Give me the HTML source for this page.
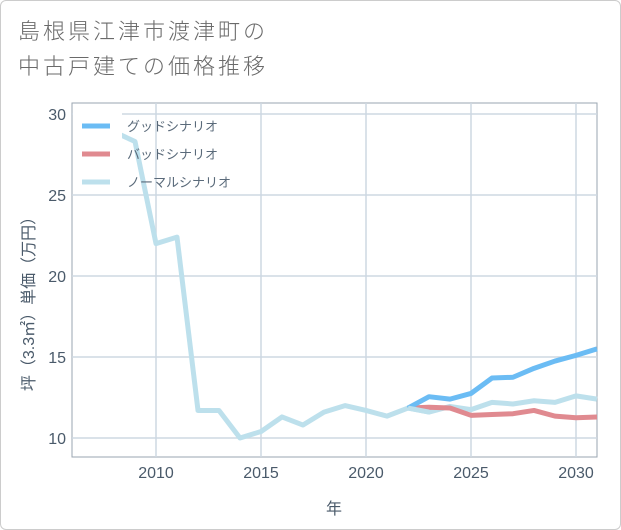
<!DOCTYPE html>
<html><head><meta charset="utf-8"><style>
body{margin:0;background:#fff;}
#wrap{position:relative;width:619px;height:528px;border:1px solid #ccc;border-radius:6px;background:#fff;overflow:hidden;font-family:"Liberation Sans","Noto Sans CJK JP",sans-serif;}
.title{position:absolute;left:17px;top:13px;font-size:22px;line-height:35px;color:#6a6a6a;letter-spacing:3px;font-weight:300;}
svg text{font-family:"Liberation Sans","Noto Sans CJK JP",sans-serif;}
</style></head><body>
<div id="wrap">
<div class="title">島根県江津市渡津町の<br>中古戸建ての価格推移</div>
<svg id="chart" width="621" height="530" style="position:absolute;left:-1px;top:-1px"></svg>
</div>
<script>
const years=[2008,2009,2010,2011,2012,2013,2014,2015,2016,2017,2018,2019,2020,2021,2022,2023,2024,2025,2026,2027,2028,2029,2030,2031];
const normalVals=[28.9,28.3,22.0,22.4,11.7,11.7,10.0,10.4,11.3,10.8,11.6,12.0,11.7,11.35,11.85,11.6,11.95,11.75,12.2,12.1,12.3,12.2,12.6,12.4];
const goodYears=[2022,2023,2024,2025,2026,2027,2028,2029,2030,2031];
const goodVals=[11.85,12.55,12.4,12.75,13.7,13.75,14.3,14.75,15.1,15.5];
const badVals=[11.85,11.9,11.85,11.4,11.45,11.5,11.7,11.35,11.25,11.3];
const xTicks=[2010,2015,2020,2025,2030];
const yTicks=[10,15,20,25,30];
const L=72,R=597,T=103,B=457;
const X=v=>L+(v-2006)*(R-L)/25;
const Y=v=>438-(v-10)*16.2;
const svg=document.getElementById('chart');
const NS='http://www.w3.org/2000/svg';
function mk(t,a){const e=document.createElementNS(NS,t);for(const k in a)e.setAttribute(k,a[k]);svg.appendChild(e);return e;}
const bg=mk('rect',{x:L,y:T,width:R-L,height:B-T,fill:'#fff',stroke:'#9aa5b0','stroke-width':1});


xTicks.forEach(t=>{
 const g=mk('line',{x1:X(t),x2:X(t),y1:T,y2:B,stroke:'#cdd8e2','stroke-width':1.5});
 
 
 const tx=mk('text',{x:X(t),y:478,'text-anchor':'middle','font-size':16,fill:'#4a5a6a'});tx.textContent=t;
 
 
});
yTicks.forEach(t=>{
 const g=mk('line',{x1:L,x2:R,y1:Y(t),y2:Y(t),stroke:'#cdd8e2','stroke-width':1.5});
 
 
 const tx=mk('text',{x:66,y:Y(t)+6,'text-anchor':'end','font-size':16,fill:'#4a5a6a'});tx.textContent=t;
 
 
});
function line(xs,vs,col,name){
 const p=mk('polyline',{points:xs.map((x,i)=>X(x)+','+Y(vs[i])).join(' '),fill:'none',stroke:col,'stroke-width':5,'stroke-linejoin':'round'});
 
 
}
line(years,normalVals,'#bde0ec','normal-scenario-line');
line(goodYears,badVals,'#e08a90','bad-scenario-line');
line(goodYears,goodVals,'#6bbcf4','good-scenario-line');
line(goodYears.slice(0,2),normalVals.slice(14,16),'#bde0ec','normal-scenario-overlap');
const lg=mk('rect',{x:73,y:110,width:49,height:84,fill:'#fff'});


[['グッドシナリオ','#6bbcf4'],['バッドシナリオ','#e08a90'],['ノーマルシナリオ','#bde0ec']].forEach((d,i)=>{
 const y=126+i*28;
 const s=mk('line',{x1:82,x2:110,y1:y,y2:y,stroke:d[1],'stroke-width':5});
 
 
 const t=mk('text',{x:127,y:y+5,'font-size':13,fill:'#5a6a7a'});t.textContent=d[0];
 
 
});
const xt=mk('text',{x:334,y:514,'text-anchor':'middle','font-size':16,fill:'#4a5a6a'});xt.textContent='年';


const yt=mk('text',{x:0,y:0,'text-anchor':'middle','font-size':16,fill:'#4a5a6a',transform:'translate(34,300) rotate(-90)'});yt.textContent='坪（3.3㎡）単価（万円）';


</script>
</body></html>
